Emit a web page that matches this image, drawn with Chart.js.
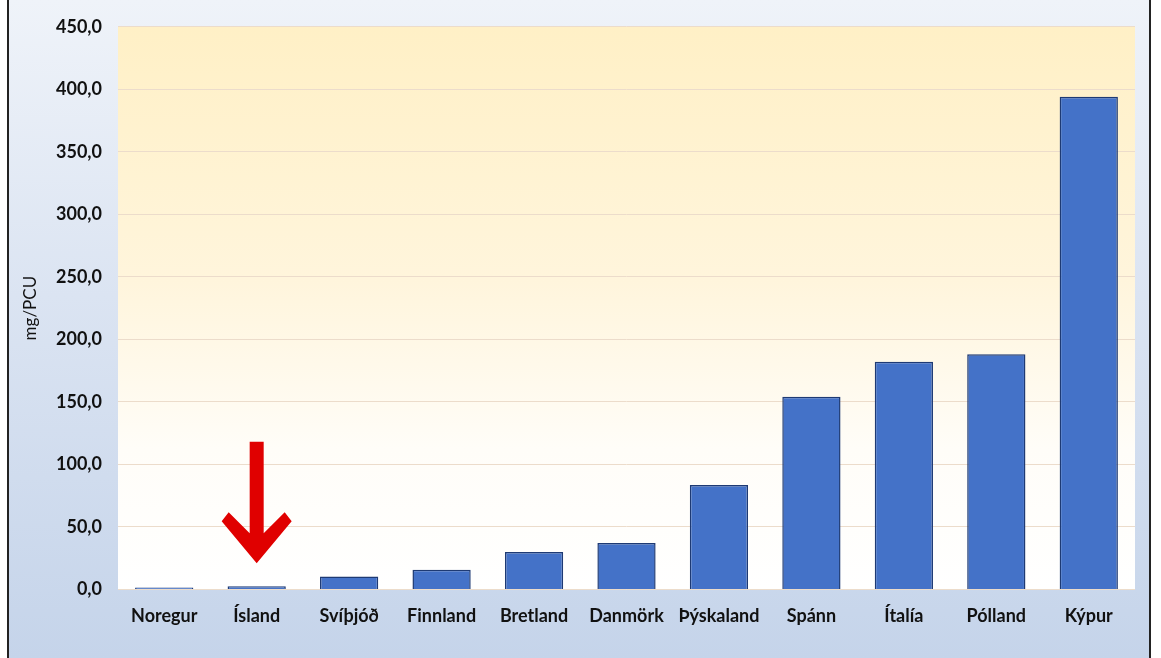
<!DOCTYPE html>
<html>
<head>
<meta charset="utf-8">
<script src="https://cdn.jsdelivr.net/npm/chart.js@4"></script>
<style>
  html, body { margin: 0; padding: 0; background: #fff; }
  #wrap { width: 1161px; height: 658px; }
</style>
</head>
<body>
<div id="wrap"><canvas id="myChart" width="1161" height="658"></canvas></div>
<script>
// lönd og gildi (mg/PCU)
const labels = ['Noregur', 'Ísland', 'Svíþjóð', 'Finnland', 'Bretland', 'Danmörk', 'Þýskaland', 'Spánn', 'Ítalía', 'Pólland', 'Kýpur'];
const values = [1.5, 2.5, 10.3, 15.8, 30.0, 37.2, 83.5, 154.0, 182.0, 188.0, 394.0];
const yTicks = [0, 50, 100, 150, 200, 250, 300, 350, 400, 450];
const arrowIndex = 1;        // Ísland
const arrowFrom = 118;       // toppur á ör (í gildum y-ás)
const arrowTo = 21;          // oddur á ör

const backdrop = {
  id: 'backdrop',
  beforeDraw(chart) {
    const { ctx, width, height, chartArea: a } = chart;
    ctx.save();
    // ytri bakgrunnur
    let g = ctx.createLinearGradient(0, 0, 0, height);
    g.addColorStop(0, '#eff3f9');
    g.addColorStop(0.45, '#dbe4f2');
    g.addColorStop(1, '#c5d4ea');
    ctx.fillStyle = g;
    ctx.fillRect(8, 0, 1142, height);
    // teiknisvæði
    g = ctx.createLinearGradient(0, a.top, 0, a.bottom);
    g.addColorStop(0, '#fff0c6');
    g.addColorStop(0.45, '#fff5dc');
    g.addColorStop(0.75, '#fffdf8');
    g.addColorStop(1, '#ffffff');
    ctx.fillStyle = g;
    ctx.fillRect(a.left, a.top, a.right - a.left, a.bottom - a.top);
    // rammalínur
    ctx.fillStyle = '#222';
    ctx.fillRect(7, 0, 2, height);
    ctx.fillRect(1149, 0, 2, height);
    ctx.restore();
  },
  afterDatasetsDraw(chart) {
    const { ctx } = chart;
    const x = chart.scales.x.getPixelForValue(arrowIndex);
    const yTop = chart.scales.y.getPixelForValue(arrowFrom);
    const yTip = chart.scales.y.getPixelForValue(arrowTo);
    ctx.save();
    ctx.fillStyle = '#e00000';
    ctx.beginPath();
    ctx.moveTo(x - 7, yTop);
    ctx.lineTo(x + 7, yTop);
    ctx.lineTo(x + 7, yTip - 30);
    ctx.lineTo(x + 28, yTip - 51);
    ctx.lineTo(x + 35, yTip - 42);
    ctx.lineTo(x, yTip);
    ctx.lineTo(x - 35, yTip - 42);
    ctx.lineTo(x - 28, yTip - 51);
    ctx.lineTo(x - 7, yTip - 30);
    ctx.closePath();
    ctx.fill();
    ctx.restore();
  }
};

function barFill(context) {
  const chart = context.chart;
  const el = context.element;
  if (!chart.chartArea || !el || !el.width) return '#4472c8';
  const x0 = el.x - el.width / 2, x1 = el.x + el.width / 2;
  const g = chart.ctx.createLinearGradient(x0, 0, x1, 0);
  g.addColorStop(0, '#3a63b4');
  g.addColorStop(0.15, '#4a78d0');
  g.addColorStop(0.5, '#4b7bd4');
  g.addColorStop(0.85, '#4774cc');
  g.addColorStop(1, '#2d5099');
  return g;
}

const ctx = document.getElementById('myChart');

new Chart(ctx, {
  type: 'bar',
  data: {
    labels: labels,
    datasets: [{
      data: values,
      backgroundColor: barFill,
      borderColor: '#1e3a74',
      borderWidth: 1.5,
      barPercentage: 0.63,
      categoryPercentage: 1.0
    }]
  },
  options: {
    responsive: false,
    animation: false,
    layout: { padding: { left: 20, right: 26, top: -3, bottom: 23 } },
    plugins: {
      legend: { display: false },
      tooltip: { enabled: false }
    },
    scales: {
      x: {
        grid: { display: false },
        border: { display: false },
        ticks: {
          color: '#111',
          padding: 8,
          font: { family: 'Lato', size: 18, weight: 'bold' }
        }
      },
      y: {
        min: 0,
        max: 450,
        afterBuildTicks(scale) {
          scale.ticks = yTicks.map(v => ({ value: v }));
        },
        afterFit(scale) {
          scale.width = 98;
        },
        grid: { color: '#ecdccb', lineWidth: 1, drawTicks: false },
        border: { display: false },
        ticks: {
          color: '#111',
          padding: 16,
          font: { family: 'Lato', size: 18, weight: 'bold' },
          callback: v => v.toFixed(1).replace('.', ',')
        },
        title: {
          display: true,
          text: 'mg/PCU',
          color: '#111',
          padding: { top: 0, bottom: 2 },
          font: { family: 'Lato', size: 17 }
        }
      }
    }
  },
  plugins: [backdrop]
});
</script>
</body>
</html>
